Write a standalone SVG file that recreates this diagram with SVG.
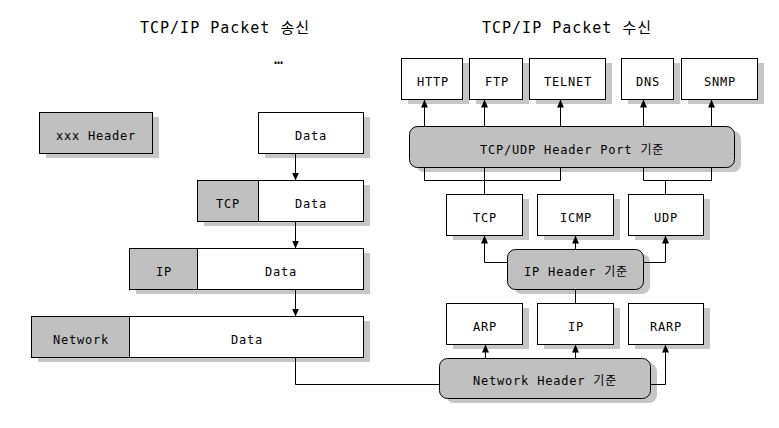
<svg xmlns="http://www.w3.org/2000/svg" width="779" height="428" viewBox="0 0 779 428">
<style>
text{font-family:"DejaVu Sans Mono","Noto Sans CJK KR",monospace;font-size:12px;letter-spacing:0.8px;fill:#000;text-anchor:middle}
.title{font-size:15px;letter-spacing:1px}
.box{fill:#fff;stroke:#000;stroke-width:1}
.hdr{fill:#c0c0c0;stroke:#000;stroke-width:1}
.sh{fill:#c6c6c6;stroke:none}
.ln{fill:none;stroke:#000;stroke-width:1}
.ar{marker-end:url(#arr)}
</style>
<defs>
<marker id="arr" markerUnits="userSpaceOnUse" viewBox="0 0 8 7" refX="8" refY="3.5" markerWidth="8" markerHeight="7" orient="auto">
<path d="M0,0 L8,3.5 L0,7 z" fill="#000"/>
</marker>
</defs>
<rect width="779" height="428" fill="#fff"/>
<text class="title" x="225" y="33">TCP/IP Packet 송신</text>
<text class="title" x="567" y="33">TCP/IP Packet 수신</text>
<text class="title" x="279" y="64">…</text>

<g id="legend">
<rect class="sh" x="46" y="117" width="113" height="41"/>
<rect class="hdr" x="39.5" y="112.5" width="113" height="41"/>
<text x="96" y="139.5">xxx Header</text>
</g>
<g id="pkt-data">
<rect class="sh" x="265" y="117" width="105" height="41"/>
<rect class="box" x="258.5" y="112.5" width="105" height="41"/>
<text x="311" y="139.5">Data</text>
</g>
<g id="pkt-tcp">
<rect class="sh" x="204" y="185" width="166" height="41"/>
<rect class="hdr" x="197.5" y="180.5" width="61" height="41"/>
<rect class="box" x="258.5" y="180.5" width="105" height="41"/>
<text x="228" y="207.5">TCP</text>
<text x="311" y="207.5">Data</text>
</g>
<g id="pkt-ip">
<rect class="sh" x="136" y="253" width="234" height="41"/>
<rect class="hdr" x="129.5" y="248.5" width="68" height="41"/>
<rect class="box" x="197.5" y="248.5" width="166" height="41"/>
<text x="164" y="275.5">IP</text>
<text x="281" y="275.5">Data</text>
</g>
<g id="pkt-net">
<rect class="sh" x="38" y="321" width="332" height="41"/>
<rect class="hdr" x="31.5" y="316.5" width="98" height="41"/>
<rect class="box" x="129.5" y="316.5" width="234" height="41"/>
<text x="81" y="343.5">Network</text>
<text x="247" y="343.5">Data</text>
</g>

<g id="http"><rect class="sh" x="408" y="63" width="61" height="41"/><rect class="box" x="401.5" y="58.5" width="61" height="41"/><text x="433" y="85.5">HTTP</text></g>
<g id="ftp"><rect class="sh" x="476" y="63" width="53" height="41"/><rect class="box" x="469.5" y="58.5" width="53" height="41"/><text x="497" y="85.5">FTP</text></g>
<g id="telnet"><rect class="sh" x="536" y="63" width="76" height="41"/><rect class="box" x="529.5" y="58.5" width="76" height="41"/><text x="568" y="85.5">TELNET</text></g>
<g id="dns"><rect class="sh" x="628" y="63" width="52" height="41"/><rect class="box" x="621.5" y="58.5" width="52" height="41"/><text x="648" y="85.5">DNS</text></g>
<g id="snmp"><rect class="sh" x="688" y="63" width="76" height="41"/><rect class="box" x="681.5" y="58.5" width="76" height="41"/><text x="720" y="85.5">SNMP</text></g>

<g id="tcpudp-hdr"><rect class="sh" x="416" y="131" width="325" height="41" rx="8"/><rect class="hdr" x="409.5" y="126.5" width="325" height="41" rx="8"/><text x="572" y="153.5">TCP/UDP Header Port 기준</text></g>

<g id="tcp"><rect class="sh" x="453" y="199" width="76" height="41"/><rect class="box" x="446.5" y="194.5" width="76" height="41"/><text x="485" y="221.5">TCP</text></g>
<g id="icmp"><rect class="sh" x="544" y="199" width="76" height="41"/><rect class="box" x="537.5" y="194.5" width="76" height="41"/><text x="576" y="221.5">ICMP</text></g>
<g id="udp"><rect class="sh" x="635" y="199" width="75" height="41"/><rect class="box" x="628.5" y="194.5" width="75" height="41"/><text x="666" y="221.5">UDP</text></g>

<g id="ip-hdr"><rect class="sh" x="514" y="254" width="136" height="40" rx="8"/><rect class="hdr" x="507.5" y="249.5" width="136" height="40" rx="8"/><text x="576" y="276">IP Header 기준</text></g>

<g id="arp"><rect class="sh" x="453" y="308" width="76" height="41"/><rect class="box" x="446.5" y="303.5" width="76" height="41"/><text x="485" y="330.5">ARP</text></g>
<g id="ip"><rect class="sh" x="544" y="308" width="76" height="41"/><rect class="box" x="537.5" y="303.5" width="76" height="41"/><text x="576" y="330.5">IP</text></g>
<g id="rarp"><rect class="sh" x="635" y="308" width="75" height="41"/><rect class="box" x="628.5" y="303.5" width="75" height="41"/><text x="666" y="330.5">RARP</text></g>

<g id="net-hdr"><rect class="sh" x="446" y="363" width="211" height="40" rx="8"/><rect class="hdr" x="439.5" y="358.5" width="211" height="40" rx="8"/><text x="545" y="385">Network Header 기준</text></g>

<g id="connectors">
<line class="ln ar" x1="295.5" y1="153.5" x2="295.5" y2="180.5"/>
<line class="ln ar" x1="295.5" y1="221.5" x2="295.5" y2="248.5"/>
<line class="ln ar" x1="295.5" y1="289.5" x2="295.5" y2="316.5"/>
<polyline class="ln" points="295.5,357.5 295.5,384.5 439.5,384.5"/>
<line class="ln ar" x1="485.5" y1="358.5" x2="485.5" y2="344.5"/>
<line class="ln ar" x1="575.5" y1="358.5" x2="575.5" y2="344.5"/>
<polyline class="ln ar" points="650.5,384.5 665.5,384.5 665.5,344.5"/>
<line class="ln" x1="575.5" y1="303.5" x2="575.5" y2="289.5"/>
<polyline class="ln ar" points="507.5,262.5 484.5,262.5 484.5,235.5"/>
<line class="ln ar" x1="575.5" y1="249.5" x2="575.5" y2="235.5"/>
<polyline class="ln ar" points="643.5,262.5 665.5,262.5 665.5,235.5"/>
<polyline class="ln" points="424.5,167.5 424.5,180.5 560.5,180.5 560.5,167.5"/>
<line class="ln" x1="484.5" y1="167.5" x2="484.5" y2="194.5"/>
<polyline class="ln" points="643.5,167.5 643.5,180.5 711.5,180.5 711.5,167.5"/>
<line class="ln" x1="665.5" y1="180.5" x2="665.5" y2="194.5"/>
<line class="ln ar" x1="424.5" y1="126.5" x2="424.5" y2="99.5"/>
<line class="ln ar" x1="484.5" y1="126.5" x2="484.5" y2="99.5"/>
<line class="ln ar" x1="560.5" y1="126.5" x2="560.5" y2="99.5"/>
<line class="ln ar" x1="643.5" y1="126.5" x2="643.5" y2="99.5"/>
<line class="ln ar" x1="711.5" y1="126.5" x2="711.5" y2="99.5"/>
</g>
</svg>
